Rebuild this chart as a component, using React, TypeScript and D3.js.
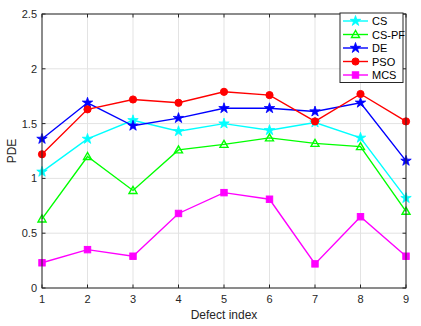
import React from "react";
import * as d3 from "d3";

const xValues = [1, 2, 3, 4, 5, 6, 7, 8, 9];
const seriesNames = ["CS", "CS-PF", "DE", "PSO", "MCS"];
const seriesColors = ["#00FFFF", "#00FF00", "#0000FF", "#FF0000", "#FF00FF"];
const seriesMarkers = ["star", "triangle", "star", "circle", "square"];
const csValues = [1.06, 1.36, 1.53, 1.43, 1.5, 1.44, 1.51, 1.37, 0.82];
const cspfValues = [0.63, 1.2, 0.89, 1.26, 1.31, 1.37, 1.32, 1.29, 0.7];
const deValues = [1.36, 1.69, 1.48, 1.55, 1.64, 1.64, 1.61, 1.69, 1.16];
const psoValues = [1.22, 1.63, 1.72, 1.69, 1.79, 1.76, 1.52, 1.77, 1.52];
const mcsValues = [0.23, 0.35, 0.29, 0.68, 0.87, 0.81, 0.22, 0.65, 0.29];
const yTicks = [0, 0.5, 1, 1.5, 2, 2.5];
const xLabel = "Defect index";
const yLabel = "PDE";

const allValues = [csValues, cspfValues, deValues, psoValues, mcsValues];

const W = 421, H = 326;
const M = { left: 42, right: 406, top: 14, bottom: 288 };
const FONT = "'Liberation Sans', Arial, Helvetica, sans-serif";

function Marker({ type, x, y, color }: { type: string; x: number; y: number; color: string }) {
  if (type === "star") {
    const path = d3.symbol(d3.symbolStar, 34)();
    return <path d={path || ""} transform={`translate(${x},${y})`} fill={color} stroke={color} strokeWidth={0.8} />;
  }
  if (type === "triangle") {
    const r = 4;
    const pts = `${x},${y - r} ${x - r},${y + r * 0.75} ${x + r},${y + r * 0.75}`;
    return <polygon points={pts} fill="none" stroke={color} strokeWidth={1.4} />;
  }
  if (type === "circle") {
    return <circle cx={x} cy={y} r={3.6} fill={color} stroke={color} />;
  }
  return <rect x={x - 3.2} y={y - 3.2} width={6.4} height={6.4} fill={color} stroke={color} />;
}

export default function App() {
  const x = d3.scaleLinear().domain([1, 9]).range([M.left, M.right]);
  const y = d3.scaleLinear().domain([0, 2.5]).range([M.bottom, M.top]);
  const line = d3.line<number>().x((_, i) => x(xValues[i])).y((d) => y(d));

  const legX = 340, legY = 13, legW = 63, legRow = 13.5;

  return (
    <svg width={W} height={H} style={{ position: "absolute", left: 0, top: 0, background: "#fff" }}>
      <rect x={0} y={0} width={W} height={H} fill="#fff" />
      {xValues.map((v) => (
        <line key={"gx" + v} x1={x(v)} x2={x(v)} y1={M.top} y2={M.bottom} stroke="#e3e3e3" strokeWidth={1} />
      ))}
      {yTicks.map((v) => (
        <line key={"gy" + v} x1={M.left} x2={M.right} y1={y(v)} y2={y(v)} stroke="#e3e3e3" strokeWidth={1} />
      ))}
      {xValues.map((v) => (
        <g key={"tx" + v}>
          <line x1={x(v)} x2={x(v)} y1={M.bottom} y2={M.bottom - 3.5} stroke="#262626" />
          <line x1={x(v)} x2={x(v)} y1={M.top} y2={M.top + 3.5} stroke="#262626" />
          <text x={x(v)} y={M.bottom + 15} textAnchor="middle" fontSize={11} fontFamily={FONT} fill="#262626">
            {v}
          </text>
        </g>
      ))}
      {yTicks.map((v) => (
        <g key={"ty" + v}>
          <line x1={M.left} x2={M.left + 3.5} y1={y(v)} y2={y(v)} stroke="#262626" />
          <line x1={M.right} x2={M.right - 3.5} y1={y(v)} y2={y(v)} stroke="#262626" />
          <text x={M.left - 5} y={y(v) + 4} textAnchor="end" fontSize={11} fontFamily={FONT} fill="#262626">
            {v}
          </text>
        </g>
      ))}
      {allValues.map((vals, si) => (
        <g key={"s" + si}>
          <path d={line(vals) || ""} fill="none" stroke={seriesColors[si]} strokeWidth={1.4} />
          {vals.map((v, i) => (
            <Marker key={i} type={seriesMarkers[si]} x={x(xValues[i])} y={y(v)} color={seriesColors[si]} />
          ))}
        </g>
      ))}
      <rect x={M.left} y={M.top} width={M.right - M.left} height={M.bottom - M.top} fill="none" stroke="#262626" strokeWidth={1} />
      <rect x={legX} y={legY} width={legW} height={legRow * 5 + 2} fill="#fff" stroke="#262626" strokeWidth={1} />
      {seriesNames.map((n, i) => {
        const cy = legY + 8 + i * legRow;
        return (
          <g key={"l" + i}>
            <line x1={legX + 3} x2={legX + 28} y1={cy} y2={cy} stroke={seriesColors[i]} strokeWidth={1.4} />
            <Marker type={seriesMarkers[i]} x={legX + 15.5} y={cy} color={seriesColors[i]} />
            <text x={legX + 32} y={cy + 4} fontSize={11} fontFamily={FONT} fill="#000">
              {n}
            </text>
          </g>
        );
      })}
      <text x={(M.left + M.right) / 2} y={319} textAnchor="middle" fontSize={12} fontFamily={FONT} fill="#262626">
        {xLabel}
      </text>
      <text transform={`translate(16,${(M.top + M.bottom) / 2}) rotate(-90)`} textAnchor="middle" fontSize={12} fontFamily={FONT} fill="#262626">
        {yLabel}
      </text>
    </svg>
  );
}
